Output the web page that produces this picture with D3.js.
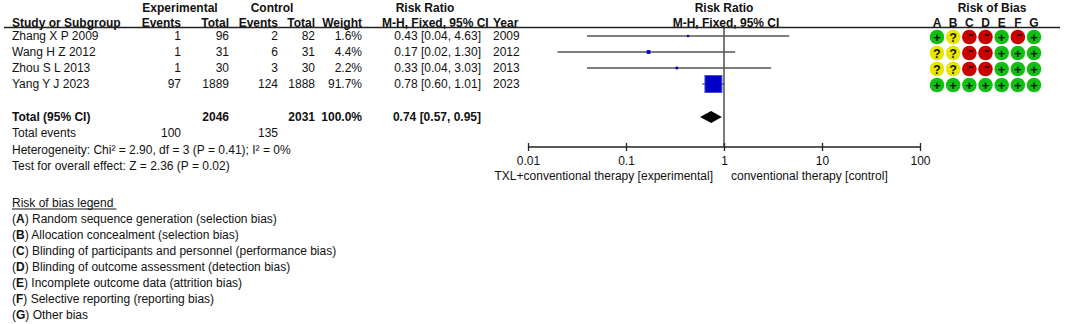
<!DOCTYPE html>
<html><head><meta charset="utf-8">
<script src="https://cdn.jsdelivr.net/npm/d3@7/dist/d3.min.js"></script>
<style>
html,body{margin:0;padding:0;background:#fff;}
svg text{font-family:"Liberation Sans",Arial,sans-serif;font-size:12px;fill:#111;}
</style></head>
<body><svg id="c" width="1065" height="324"></svg>
<script>
// ---- data ----
const studies = ["Zhang X P 2009","Wang H Z 2012","Zhou S L 2013","Yang Y J 2023"];
const expEvents = [1,1,1,97];
const expTotal = [96,31,30,1889];
const ctrlEvents = [2,6,3,124];
const ctrlTotal = [82,31,30,1888];
const weights = [1.6,4.4,2.2,91.7];
const rr = [0.43,0.17,0.33,0.78];
const ciLow = [0.04,0.02,0.04,0.60];
const ciHigh = [4.63,1.30,3.03,1.01];
const years = [2009,2012,2013,2023];
const total = {exp:2046, ctrl:2031, weight:"100.0%", rr:0.74, lo:0.57, hi:0.95};
const totalEvents = [100,135];
const heterogeneity = "Heterogeneity: Chi² = 2.90, df = 3 (P = 0.41); I² = 0%";
const overallEffect = "Test for overall effect: Z = 2.36 (P = 0.02)";
const tickValues = [0.01,0.1,1,10,100];
const tickLabels = ["0.01","0.1","1","10","100"];
const favourLeft = "TXL+conventional therapy [experimental]";
const favourRight = "conventional therapy [control]";
const biasDomains = ["A","B","C","D","E","F","G"];
// rows: studies; columns: domains
const biasJudgements = [
  ["+","?","-","-","+","-","+"],
  ["?","?","-","-","+","+","+"],
  ["?","?","-","-","+","+","+"],
  ["+","+","+","+","+","+","+"]
];
const legendTitle = "Risk of bias legend";
const legendItems = [
  "Random sequence generation (selection bias)",
  "Allocation concealment (selection bias)",
  "Blinding of participants and personnel (performance bias)",
  "Blinding of outcome assessment (detection bias)",
  "Incomplete outcome data (attrition bias)",
  "Selective reporting (reporting bias)",
  "Other bias"
];

// ---- drawing ----
const svg = d3.select("#c");
const fmt2 = d3.format(".2f");
const rowY = d3.scaleLinear().domain([0,1]).range([36,52]);
const x = d3.scaleLog().domain([0.01,100]).range([528,920]);
const sq = d3.scaleSqrt().domain([0,91.7]).range([0,17]);

function txt(xp,yp,s,anchor,bold){
  return svg.append("text").attr("x",xp).attr("y",yp).attr("dominant-baseline","central")
    .attr("text-anchor",anchor||"start").style("font-weight",bold?"bold":"normal").text(s);
}

// headers
txt(180,8,"Experimental","middle",true);
txt(272,8,"Control","middle",true);
txt(425,8,"Risk Ratio","middle",true);
txt(724,8,"Risk Ratio","middle",true);
txt(992,8,"Risk of Bias","middle",true);
const h2 = 22.5;
txt(12,h2,"Study or Subgroup","start",true);
txt(181,h2,"Events","end",true);
txt(229,h2,"Total","end",true);
txt(278,h2,"Events","end",true);
txt(315,h2,"Total","end",true);
txt(362,h2,"Weight","end",true);
txt(382,h2,"M-H, Fixed, 95% CI","start",true);
txt(493,h2,"Year","start",true);
txt(726,h2,"M-H, Fixed, 95% CI","middle",true);
const bx = d3.scalePoint().domain(biasDomains).range([937,1034]);
biasDomains.forEach(d=>txt(bx(d),h2,d,"middle",true));
svg.append("line").attr("x1",4).attr("x2",1060).attr("y1",27.5).attr("y2",27.5)
  .attr("stroke","#222").attr("stroke-width",1.3);

// study rows
studies.forEach((s,i)=>{
  const y = rowY(i);
  txt(12,y,s);
  txt(181,y,expEvents[i],"end");
  txt(229,y,expTotal[i],"end");
  txt(278,y,ctrlEvents[i],"end");
  txt(315,y,ctrlTotal[i],"end");
  txt(362,y,weights[i].toFixed(1)+"%","end");
  txt(481,y,`${fmt2(rr[i])} [${fmt2(ciLow[i])}, ${fmt2(ciHigh[i])}]`,"end");
  txt(493,y,years[i]);
});

// total row
const ty = 117;
txt(12,ty,"Total (95% CI)","start",true);
txt(229,ty,total.exp,"end",true);
txt(315,ty,total.ctrl,"end",true);
txt(362,ty,total.weight,"end",true);
txt(481,ty,`${fmt2(total.rr)} [${fmt2(total.lo)}, ${fmt2(total.hi)}]`,"end",true);
txt(12,133,"Total events");
txt(181,133,totalEvents[0],"end");
txt(278,133,totalEvents[1],"end");
txt(12,150,heterogeneity);
txt(12,166,overallEffect);

// forest plot
const axisY = 147;
svg.append("line").attr("x1",x(1)).attr("x2",x(1)).attr("y1",27.5).attr("y2",axisY)
  .attr("stroke","#222").attr("stroke-width",1.2);
const g = svg.append("g");
studies.forEach((s,i)=>{
  const y = rowY(i);
  g.append("line").attr("x1",x(ciLow[i])).attr("x2",x(ciHigh[i])).attr("y1",y).attr("y2",y)
    .attr("stroke","#555").attr("stroke-width",1.3);
  const w = Math.max(2, sq(weights[i]));
  g.append("rect").attr("x",x(rr[i])-w/2).attr("y",y-w/2).attr("width",w).attr("height",w)
    .attr("fill","#0000c8").attr("stroke", w>5?"#4a4ae0":"none").attr("stroke-width",1);
});
// diamond
g.append("path").attr("d",`M${x(total.lo)},${ty} L${x(total.rr)},${ty-6} L${x(total.hi)},${ty} L${x(total.rr)},${ty+6} Z`)
  .attr("fill","#000");

// axis
const ax = svg.append("g").attr("transform",`translate(0,${axisY})`)
  .call(d3.axisBottom(x).tickValues(tickValues).tickFormat((d,i)=>tickLabels[i]).tickSize(4));
ax.select(".domain").attr("d",`M${x(0.01)},0H${x(100)}`).attr("stroke","#222").attr("stroke-width",1.3);
ax.selectAll(".tick line").attr("y1",-4).attr("y2",4).attr("stroke","#222").attr("stroke-width",1.3);
ax.selectAll(".tick text").attr("y",14).attr("dy",null).attr("dominant-baseline","central")
  .style("font-family",'"Liberation Sans",Arial,sans-serif').style("font-size","12px").attr("fill","#111");
txt(713,176,favourLeft,"end");
txt(731,176,favourRight,"start");

// risk of bias circles
const colors = {"+":"#10c010","?":"#e6e600","-":"#c80000"};
biasJudgements.forEach((row,i)=>{
  const y = rowY(i)+1;
  row.forEach((j,k)=>{
    const cx = bx(biasDomains[k]);
    svg.append("circle").attr("cx",cx).attr("cy",y).attr("r",7.3).attr("fill",colors[j]);
    if(j==="-"){
      svg.append("line").attr("x1",cx-0.5).attr("x2",cx+4).attr("y1",y-2).attr("y2",y-2)
        .attr("stroke","#000").attr("stroke-width",1.4);
    } else {
      svg.append("text").attr("x",cx).attr("y",y+0.5).attr("text-anchor","middle")
        .attr("dominant-baseline","central").style("font-weight","bold")
        .style("font-size",j==="+"?"13px":"12px").text(j);
    }
  });
});

// legend
const ly = 203;
const lt = txt(12,ly,legendTitle);
const lw = lt.node().getComputedTextLength();
svg.append("line").attr("x1",12).attr("x2",12+lw+3).attr("y1",ly+6).attr("y2",ly+6)
  .attr("stroke","#111").attr("stroke-width",1);
legendItems.forEach((s,i)=>{
  const t = svg.append("text").attr("x",12).attr("y",ly+16*(i+1)).attr("dominant-baseline","central");
  t.append("tspan").text("(");
  t.append("tspan").style("font-weight","bold").text(biasDomains[i]);
  t.append("tspan").text(") "+s);
});
</script></body></html>
